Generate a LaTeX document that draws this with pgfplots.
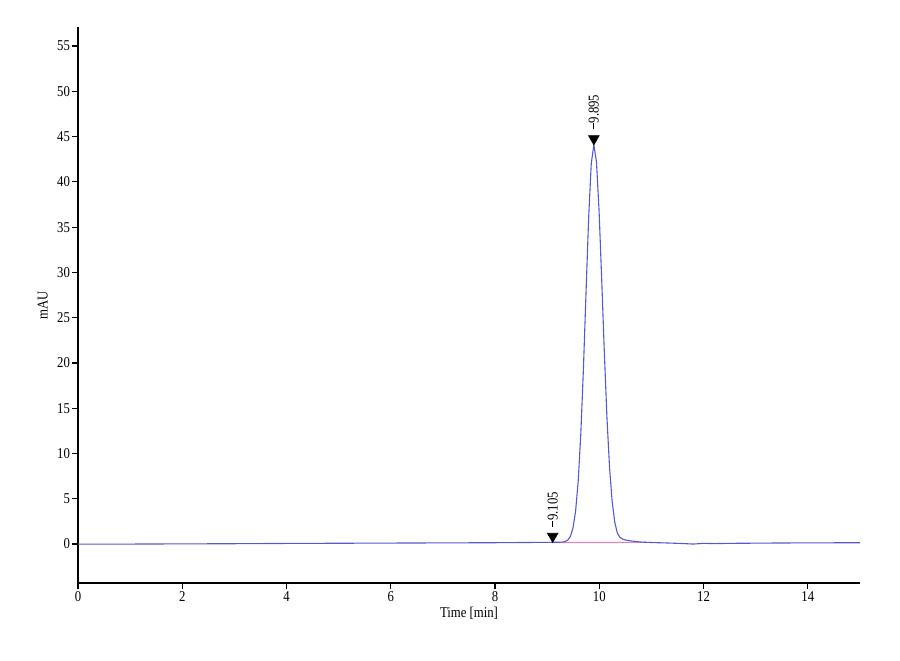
\documentclass[border=0pt]{standalone}
\usepackage{fontspec}
\setmainfont{Liberation Serif}[FakeStretch=0.85]
\usepackage{pgfplots}
\pgfplotsset{compat=1.18}
\definecolor{trace}{RGB}{88,88,205}
\definecolor{base}{RGB}{228,135,185}

\pgfplotstableread{
t y
0 0.00
0.5 0.00
1 0.00
2 0.02
3 0.04
4 0.07
5 0.09
6 0.11
7 0.13
8 0.15
8.5 0.17
9 0.19
9.2 0.20
9.3 0.22
9.345 0.28
9.395 0.44
9.445 0.85
9.495 1.78
9.545 3.65
9.595 6.98
9.645 12.2
9.695 19.4
9.745 27.8
9.795 36.0
9.845 42.0
9.895 44.1
9.945 42.2
9.995 36.8
10.045 29.3
10.095 21.3
10.145 14.1
10.195 8.55
10.245 4.75
10.295 2.45
10.345 1.2
10.395 0.75
10.445 0.55
10.5 0.45
10.6 0.35
10.7 0.28
10.8 0.22
11.0 0.17
11.3 0.12
11.6 0.06
11.8 0.00
11.9 0.04
12.0 0.08
12.2 0.05
12.5 0.08
13.0 0.10
13.5 0.12
14.0 0.13
14.5 0.14
15.0 0.15
}\chrom

\begin{document}
\fontsize{7.5}{9}\selectfont
\begin{tikzpicture}
    \begin{axis}[
        scale only axis,
        width=391pt,
        height=278pt,
        xmin=0, xmax=15,
        ymin=-4.3, ymax=57.1,
        xtick={0,2,...,14},
        ytick={0,5,...,55},
        axis x line*=bottom,
        axis y line*=left,
        axis line style={black, line width=1pt},
        tick style={black, line width=0.6pt},
        tick align=outside,
        major tick length=2.8pt,
        /pgf/number format/assume math mode=true,
        ticklabel style={font=\fontsize{7.5}{9}\selectfont},
        xticklabel style={inner sep=1pt, yshift=-0.5pt},
        yticklabel style={inner sep=1pt},
        xlabel={Time [min]},
        ylabel={mAU},
        label style={font=\fontsize{7.5}{9}\selectfont},
        xlabel style={at={(ticklabel cs:0.5)}, yshift=1pt},
        ylabel style={yshift=1pt},
        ]
        \addplot [base, line width=0.6pt] coordinates {(9.1,0.17) (10.9,0.19)};
        \addplot [trace, line width=0.55pt] table {\chrom};
        \addplot [only marks, mark=triangle*, mark size=3pt,
            mark options={yshift=3pt, rotate=180, fill=black, draw=black},
            point meta=explicit symbolic,
            nodes near coords={\rule[0.3em]{3pt}{0.6pt}\pgfplotspointmeta},
            every node near coord/.style={rotate=90, anchor=west, inner sep=0pt,
                xshift=4.5pt, font=\fontsize{7.5}{9}\selectfont, black}]
            coordinates {(9.105,0.20) [9.105] (9.895,44.1) [9.895]};
    \end{axis}
    \pgfresetboundingbox
    \path[use as bounding box] ([shift={(-39pt,-38.5pt)}]current axis.south west) rectangle +(450pt,330pt);
\end{tikzpicture}
\end{document}
